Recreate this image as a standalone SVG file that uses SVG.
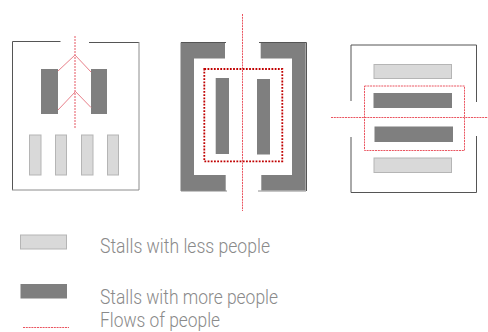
<svg xmlns="http://www.w3.org/2000/svg" width="488" height="332" viewBox="0 0 488 332">
<style>
.wall{fill:none;stroke:#555;stroke-width:1}
.wall2{fill:none;stroke:#8c8c8c;stroke-width:1}
.more{fill:#7f7f7f}
.less{fill:#d9d9d9;stroke:#b5b5b5;stroke-width:1}
.flow{fill:none;stroke:#e8808a;stroke-width:1}
.flowv{fill:none;stroke:#ee9098;stroke-width:1.5;stroke-dasharray:2 1}
.flowd{fill:none;stroke:#ea5560;stroke-width:1;stroke-dasharray:2 .8}
.dots{fill:none;stroke:#c00000;stroke-width:1.8;stroke-dasharray:1.8 1.4}
.lbl{font-family:Roboto,"Liberation Sans",sans-serif;font-weight:300;font-size:20px;fill:#8a8a8a}
</style>
<rect width="488" height="332" fill="#fff"/>
<g id="layout-a">
<path class="wall" d="M60.500 41.500H12.500V190"/><path class="wall" d="M89 42.500H139"/><path class="wall2" d="M139 42V190H12"/>
<rect class="more" x="41" y="69" width="17" height="45"/><rect class="more" x="91" y="69" width="16" height="45"/>
<rect class="less" x="29.500" y="135" width="11.500" height="40"/><rect class="less" x="55.500" y="135" width="11" height="40"/><rect class="less" x="81.500" y="135" width="11.500" height="40"/><rect class="less" x="107.500" y="135" width="11" height="40"/>
</g>
<g id="layout-b">
<path class="more" d="M225 42.500H180.500V191H225.700V175H194V58.500H225Z"/>
<path class="more" d="M260.700 42.500H305.700V190.500H261.300V175H292V58.500H260.700Z"/>
<path class="wall" d="M181 42.500H226M259 42.500H306.500V191"/><path class="wall2" d="M181 191H227M258 191H306"/>
<rect class="more" x="215.700" y="78" width="13.300" height="76"/><rect class="more" x="257" y="79" width="13" height="75.500"/>
</g>
<g id="layout-c">
<path class="wall" d="M351 101V45H476.500V102M351 137V192.500H476.500V136"/>
<rect class="less" x="374" y="64.500" width="77.500" height="14"/><rect class="less" x="374" y="158" width="77.500" height="14.500"/>
<rect class="more" x="373.500" y="93" width="78.500" height="15"/><rect class="more" x="374.500" y="126.500" width="78.500" height="15.500"/>
</g>
<g id="legend">
<rect class="less" x="20.500" y="235" width="46" height="14"/><rect class="more" x="20.500" y="284" width="46.500" height="14.500"/>
<text class="lbl" x="100" y="252.500" textLength="170" lengthAdjust="spacingAndGlyphs">Stalls with less people</text><text class="lbl" x="100" y="303.500" textLength="178" lengthAdjust="spacingAndGlyphs">Stalls with more people</text><text class="lbl" x="100" y="326.500" textLength="120" lengthAdjust="spacingAndGlyphs">Flows of people</text>
</g>
<g id="connectors">
<path class="flowv" d="M75 36V129"/><path class="flow" d="M58 71L75 55L91 72M58 110L75.500 91.500L91 107.500"/>
<path class="flowd" d="M242.500 14V211"/><rect class="dots" x="204.300" y="69" width="78" height="92.300"/>
<rect class="flowd" x="364.500" y="86" width="100" height="64.500"/><path class="flowd" d="M331 117.500H488"/>
<path class="flowd" d="M23 327.500H69"/>
</g>
</svg>
